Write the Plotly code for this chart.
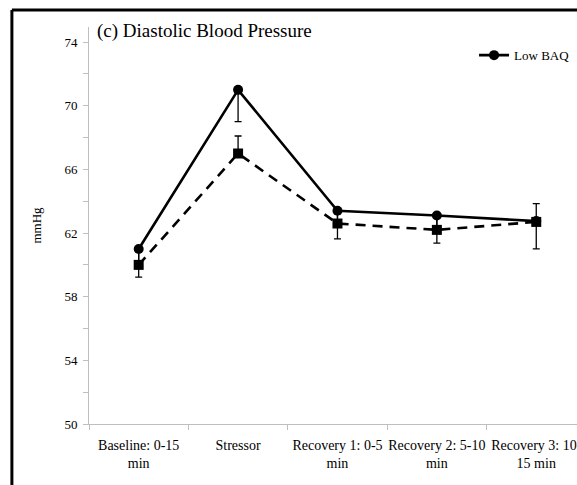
import plotly.graph_objects as go

# Diastolic blood pressure across task phases
phases = [
    "Baseline: 0-15<br>min",
    "Stressor",
    "Recovery 1: 0-5<br>min",
    "Recovery 2: 5-10<br>min",
    "Recovery 3: 10-<br>15 min",
]
low_baq = [61.0, 71.0, 63.4, 63.1, 62.75]
low_baq_err_minus = [1.77, 2.0, 1.76, 1.73, 1.75]
high_baq = [60.0, 67.0, 62.6, 62.2, 62.7]
high_baq_err_plus = [0.9, 1.1, 0.7, 0.8, 1.15]

serif = "Liberation Serif"

fig = go.Figure()

# High BAQ (dashed, squares)
fig.add_trace(
    go.Scatter(
        x=phases,
        y=high_baq,
        mode="lines+markers",
        name="High BAQ",
        showlegend=False,
        line=dict(color="black", width=2.6, dash="10px,7px"),
        marker=dict(symbol="square", size=10, color="black"),
        error_y=dict(type="data", symmetric=False, array=high_baq_err_plus,
                     arrayminus=[0] * len(high_baq), color="black",
                     thickness=1.3, width=3.5),
        cliponaxis=False,
    )
)

# Low BAQ (solid, circles)
fig.add_trace(
    go.Scatter(
        x=phases,
        y=low_baq,
        mode="lines+markers",
        name="Low BAQ",
        line=dict(color="black", width=2.6),
        marker=dict(symbol="circle", size=10, color="black"),
        error_y=dict(type="data", symmetric=False, array=[0] * len(low_baq),
                     arrayminus=low_baq_err_minus, color="black",
                     thickness=1.3, width=3.5),
        cliponaxis=False,
    )
)

# title inside the chart
fig.add_annotation(
    text="(c) Diastolic Blood Pressure", xref="paper", yref="paper",
    x=0.012, y=0.99, xanchor="left", yanchor="middle", showarrow=False,
    font=dict(family=serif, size=19, color="black"),
)

# thick frame on top and left edges
frame = dict(color="black", width=3)
fig.add_shape(type="line", xref="paper", yref="paper",
              x0=-0.158, x1=-0.158, y0=-0.2, y1=1.043, line=frame)
fig.add_shape(type="line", xref="paper", yref="paper",
              x0=-0.158, x1=1.05, y0=1.043, y1=1.043, line=frame)

fig.update_layout(
    width=577,
    height=485,
    margin=dict(l=89, r=0, t=27, b=61),
    paper_bgcolor="white",
    plot_bgcolor="white",
    font=dict(family=serif, size=14, color="black"),
    showlegend=True,
    legend=dict(x=0.996, y=0.929, xanchor="right", yanchor="middle",
                bgcolor="rgba(0,0,0,0)", font=dict(size=13)),
    xaxis=dict(
        type="category",
        range=[-0.5, 4.41],
        showline=True, linecolor="#bfbfbf", linewidth=1,
        ticks="outside", tickson="boundaries", ticklen=5, tickcolor="#bfbfbf",
        showgrid=False, zeroline=False, tickangle=0, automargin=False,
        ticklabelstandoff=8,
        tickfont=dict(family=serif, size=14),
    ),
    yaxis=dict(
        range=[50, 74.95],
        tickvals=[50, 54, 58, 62, 66, 70, 74],
        showline=True, linecolor="#bfbfbf", linewidth=1,
        ticks="outside", ticklen=5, tickcolor="#bfbfbf",
        minor=dict(tickvals=[52, 56, 60, 64, 68, 72], ticks="outside",
                   ticklen=5, tickcolor="#bfbfbf"),
        showgrid=False, zeroline=False, automargin=False,
        ticklabelstandoff=3,
        tickfont=dict(family=serif, size=13),
        title=dict(text="mmHg", standoff=19, font=dict(family=serif, size=13)),
    ),
)

# drop the page's default body margin so the chart sits at the window corner
fig.write_html("out.html", config={"displayModeBar": False},
               post_script="document.body.style.margin='0';")
